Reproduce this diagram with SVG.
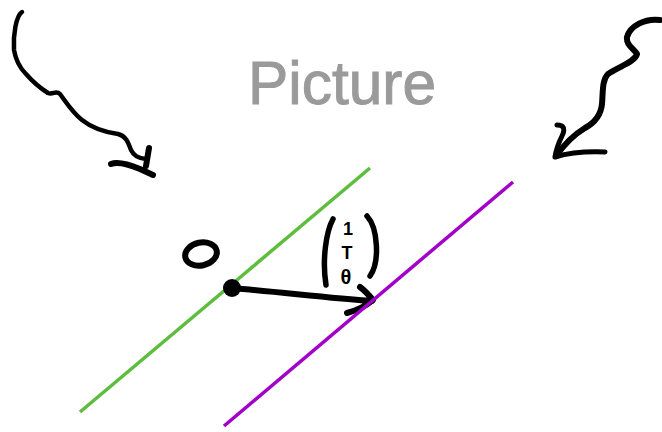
<svg xmlns="http://www.w3.org/2000/svg" width="662" height="432" viewBox="0 0 662 432">
<style>
.ink{fill:none;stroke:#000;stroke-linecap:round;stroke-linejoin:round}
.hand{font-family:"Liberation Sans",Arial,sans-serif;fill:#000;font-weight:bold}
</style>
<rect width="662" height="432" fill="#fff"/>
<g id="title">
<text x="248" y="104" font-family="'Liberation Sans',Arial,sans-serif" font-size="62" fill="#9a9a9a" stroke="#9a9a9a" stroke-width="1" textLength="188" lengthAdjust="spacingAndGlyphs">Picture</text>
</g>
<g id="connectors">
<path class="ink" stroke-width="4.5" d="M22,12 C16,16 13,35 14,50 C16,62 20,68 26,74 C33,82 40,88 48,93 C53,95 56,90 60,94 C66,102 72,112 82,120 C92,128 104,132 118,134 C126,136 128,142 131,150 C134,156 138,158 146,159"/>
<path class="ink" stroke-width="6" d="M149,148 L146,166 M111,164 C118,161 128,164 140,169 L153,175"/>
<path class="ink" stroke-width="6" d="M660,20 C645,18 630,26 627,37 C626,45 633,48 637,54 C635,62 620,66 608,74 C602,80 603,92 602,104 C601,114 596,122 585,128 C575,134 566,142 556,156"/>
<path class="ink" stroke-width="5" d="M557,125 C563,125 566,128 562,136 C559,142 556,150 555,157 C565,154 580,151 605,152"/>
<path class="ink" stroke-width="6" d="M232,288 C280,292 330,298 372,301 M347,313 C358,310 366,306 373,300 C368,294 364,290 360,287"/>
</g>
<g id="green-line"><line x1="80" y1="412" x2="370" y2="168" stroke="#5ebd3e" stroke-width="3.5"/></g>
<g id="purple-line"><line x1="224" y1="426" x2="513" y2="182" stroke="#a000c8" stroke-width="3.5"/></g>
<g id="origin">
<circle cx="232" cy="288" r="9" fill="#000"/>
<ellipse cx="201" cy="254" rx="16" ry="11.5" transform="rotate(-12 201 254)" fill="none" stroke="#000" stroke-width="6"/>
</g>
<g id="vector">
<path class="ink" stroke-width="5.5" d="M333,219 C326,232 322,260 326,285 M367,216 C378,228 380,262 370,276"/>
<text class="hand" x="348" y="235" font-size="18" text-anchor="middle">1</text>
<text class="hand" x="347" y="259" font-size="18" text-anchor="middle">T</text>
<text class="hand" x="346" y="284" font-size="20" text-anchor="middle">θ</text>
</g>
</svg>
